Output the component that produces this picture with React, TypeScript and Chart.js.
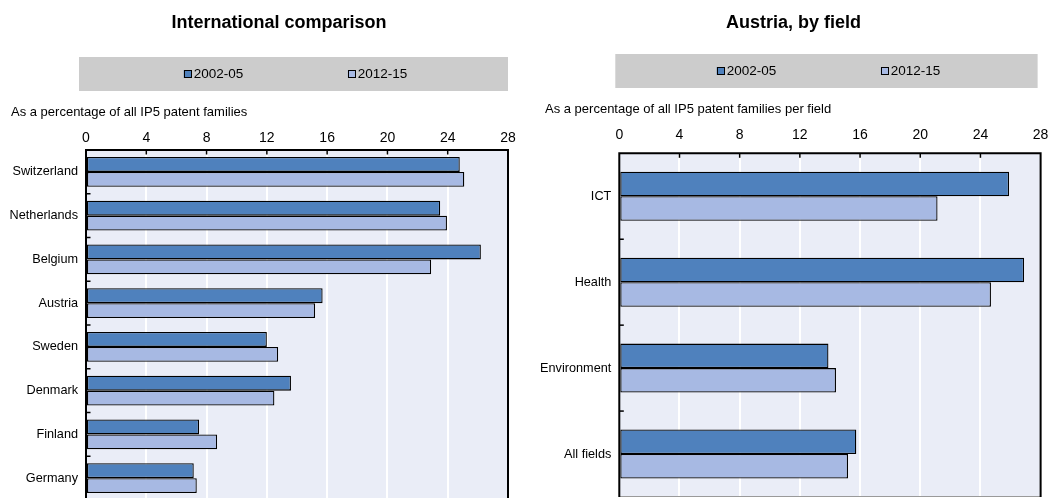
import React, { useEffect, useRef } from "react";
import { Chart, registerables } from "chart.js";

Chart.register(...registerables);

// ---------- data ----------
const SERIES_LABELS = ["2002-05", "2012-15"];
const SERIES_COLORS = ["#4F81BD", "#A7B9E3"];

const COUNTRIES = ["Switzerland", "Netherlands", "Belgium", "Austria", "Sweden", "Denmark", "Finland", "Germany"];
const COUNTRY_2002_05 = [24.8, 23.5, 26.2, 15.7, 12.0, 13.6, 7.5, 7.15];
const COUNTRY_2012_15 = [25.1, 23.95, 22.9, 15.2, 12.75, 12.5, 8.7, 7.35];

const FIELDS = ["ICT", "Health", "Environment", "All fields"];
const FIELD_2002_05 = [25.9, 26.9, 13.9, 15.75];
const FIELD_2012_15 = [21.15, 24.7, 14.4, 15.2];

const X_MIN = 0;
const X_MAX = 28;
const X_STEP = 4;

const TITLES = ["International comparison", "Austria, by field"];
const SUBTITLES = [
  "As a percentage of all IP5 patent families",
  "As a percentage of all IP5 patent families per field",
];

// ---------- styling ----------
const FONT = '"Liberation Sans", Arial, sans-serif';
const PLOT_BG = "#EAEDF7";
const LEGEND_BG = "#CCCCCC";

const decorPlugin = {
  id: "panelDecor",
  afterLayout(chart: any) {
    // let long category labels extend left of the layout padding (no clipping)
    if (chart.scales.y) chart.scales.y.left = 0;
  },
  beforeDraw(chart: any, _args: any, opts: any) {
    const { ctx, chartArea: a } = chart;
    ctx.save();
    ctx.fillStyle = opts.plotBg;
    ctx.fillRect(a.left, a.top, a.right - a.left, a.bottom - a.top);

    // legend band
    const bx = a.left + opts.legendInsetL;
    const bw = a.right + opts.legendInsetR - bx;
    ctx.fillStyle = opts.legendBg;
    ctx.fillRect(bx, opts.legendTop, bw, opts.legendHeight);

    ctx.font = `${opts.legendFontSize}px ${FONT}`;
    ctx.textBaseline = "middle";
    ctx.textAlign = "left";
    const ds = chart.data.datasets;
    const sq = 8;
    const gap = 2;
    const lastW = sq + gap + ctx.measureText(ds[ds.length - 1].label).width;
    const total = opts.legendItemStep * (ds.length - 1) + lastW;
    const cx = bx + bw / 2 + 2;
    const cy = opts.legendTop + opts.legendHeight / 2;
    let x = cx - total / 2;
    ds.forEach((d: any) => {
      ctx.fillStyle = d.backgroundColor;
      ctx.fillRect(x, cy - sq / 2, sq, sq);
      ctx.strokeStyle = "#000";
      ctx.lineWidth = 1;
      ctx.strokeRect(Math.round(x) + 0.5, Math.round(cy - sq / 2) + 0.5, sq - 1, sq - 1);
      ctx.fillStyle = "#000";
      ctx.fillText(d.label, x + sq + gap, cy + 0.5);
      x += opts.legendItemStep;
    });
    ctx.restore();
  },
  afterDraw(chart: any) {
    const { ctx, chartArea: a, scales } = chart;
    ctx.save();
    // bottom line
    ctx.strokeStyle = "#9A9A9A";
    ctx.lineWidth = 1;
    ctx.beginPath();
    ctx.moveTo(a.left, a.bottom - 0.5);
    ctx.lineTo(a.right, a.bottom - 0.5);
    ctx.stroke();
    // frame
    ctx.strokeStyle = "#000";
    ctx.lineWidth = 2;
    ctx.beginPath();
    ctx.moveTo(a.left, a.bottom);
    ctx.lineTo(a.left, a.top);
    ctx.lineTo(a.right, a.top);
    ctx.lineTo(a.right, a.bottom);
    ctx.stroke();
    // inner tick marks
    ctx.lineWidth = 1.5;
    const xs = scales.x;
    xs.ticks.forEach((t: any) => {
      if (t.value <= X_MIN || t.value >= X_MAX) return;
      const px = xs.getPixelForValue(t.value);
      ctx.beginPath();
      ctx.moveTo(px, a.top);
      ctx.lineTo(px, a.top + 4.5);
      ctx.stroke();
    });
    const ys = scales.y;
    const n = chart.data.labels.length;
    for (let i = 1; i < n; i++) {
      const py = (ys.getPixelForValue(i - 1) + ys.getPixelForValue(i)) / 2;
      ctx.beginPath();
      ctx.moveTo(a.left, py);
      ctx.lineTo(a.left + 4.5, py);
      ctx.stroke();
    }
    ctx.restore();
  },
};

type PanelCfg = {
  x: number;
  w: number;
  h: number;
  title: string;
  subtitle: string;
  labels: string[];
  a: number[];
  b: number[];
  pad: { left: number; right: number; top: number; bottom: number };
  titlePadBottom: number;
  subtitlePadBottom: number;
  tickPad: number;
  yWidth: number;
  rightSpacer: number;
  catPct: number;
  legendTop: number;
  legendInsetL: number;
  legendInsetR: number;
};

const PANELS: PanelCfg[] = [
  {
    x: 0,
    w: 547,
    h: 504,
    title: TITLES[0],
    subtitle: SUBTITLES[0],
    labels: COUNTRIES,
    a: COUNTRY_2002_05,
    b: COUNTRY_2012_15,
    pad: { left: 11, right: 0, top: 0, bottom: 4 },
    titlePadBottom: 70.34,
    subtitlePadBottom: 5.9,
    tickPad: 3.75,
    yWidth: 75,
    rightSpacer: 39,
    catPct: 0.68,
    legendTop: 57,
    legendInsetL: -7,
    legendInsetR: 0,
  },
  {
    x: 524,
    w: 534,
    h: 498,
    title: TITLES[1],
    subtitle: SUBTITLES[1],
    labels: FIELDS,
    a: FIELD_2002_05,
    b: FIELD_2012_15,
    pad: { left: 21, right: 16, top: 0, bottom: 1 },
    titlePadBottom: 67.84,
    subtitlePadBottom: 0,
    tickPad: 9.6,
    yWidth: 74.3,
    rightSpacer: 0,
    catPct: 0.57,
    legendTop: 54,
    legendInsetL: -4,
    legendInsetR: -3,
  },
];

function buildConfig(p: PanelCfg): any {
  const mk = (label: string, data: number[], color: string) => ({
    label,
    data,
    backgroundColor: color,
    borderColor: "#000",
    borderWidth: 1.3,
    borderSkipped: false,
    categoryPercentage: p.catPct,
    barPercentage: 1,
  });
  const scales: any = {
    x: {
      type: "linear",
      position: "top",
      min: X_MIN,
      max: X_MAX,
      ticks: {
        stepSize: X_STEP,
        padding: p.tickPad,
        color: "#000",
        font: { family: FONT, size: 14 },
        maxRotation: 0,
      },
      grid: { display: true, drawTicks: false, color: "#FFFFFF", lineWidth: 2 },
      border: { display: false },
    },
    y: {
      type: "category",
      position: "left",
      ticks: { padding: 8, color: "#000", font: { family: FONT, size: 12.7 }, autoSkip: false },
      grid: { display: false, drawTicks: false },
      border: { display: false },
      afterFit: (s: any) => {
        s.width = p.yWidth;
        s.paddingTop = 0;
        s.paddingBottom = 0;
      },
    },
  };
  if (p.rightSpacer > 0) {
    scales.y2 = {
      type: "linear",
      axis: "y",
      position: "right",
      display: true,
      ticks: { display: false },
      grid: { display: false, drawTicks: false },
      border: { display: false },
      afterFit: (s: any) => {
        s.width = p.rightSpacer;
        s.paddingTop = 0;
        s.paddingBottom = 0;
      },
    };
  }
  return {
    type: "bar",
    data: {
      labels: p.labels,
      datasets: [mk(SERIES_LABELS[0], p.a, SERIES_COLORS[0]), mk(SERIES_LABELS[1], p.b, SERIES_COLORS[1])],
    },
    options: {
      indexAxis: "y",
      responsive: false,
      animation: false,
      devicePixelRatio: 1,
      layout: { padding: p.pad },
      scales,
      plugins: {
        legend: { display: false },
        tooltip: { enabled: false },
        title: {
          display: true,
          text: p.title,
          color: "#000",
          font: { family: FONT, size: 18, weight: "bold" },
          padding: { top: 12.26, bottom: p.titlePadBottom },
        },
        subtitle: {
          display: true,
          text: p.subtitle,
          align: "start",
          color: "#000",
          font: { family: FONT, size: 13 },
          padding: { top: 0, bottom: p.subtitlePadBottom },
        },
        panelDecor: {
          plotBg: PLOT_BG,
          legendBg: LEGEND_BG,
          legendTop: p.legendTop,
          legendHeight: 34,
          legendInsetL: p.legendInsetL,
          legendInsetR: p.legendInsetR,
          legendFontSize: 13.5,
          legendItemStep: 164,
        },
      },
    },
    plugins: [decorPlugin],
  };
}

function Panel({ cfg }: { cfg: PanelCfg }) {
  const ref = useRef<HTMLCanvasElement>(null);
  useEffect(() => {
    const chart = new Chart(ref.current as HTMLCanvasElement, buildConfig(cfg));
    return () => chart.destroy();
  }, [cfg]);
  return (
    <canvas
      ref={ref}
      width={cfg.w}
      height={cfg.h}
      style={{ position: "absolute", left: cfg.x, top: 0, width: cfg.w, height: cfg.h }}
    />
  );
}

export default function App() {
  return (
    <div
      style={{
        position: "fixed",
        left: 0,
        top: 0,
        width: 1058,
        height: 498,
        overflow: "hidden",
        background: "#FFFFFF",
      }}
    >
      {PANELS.map((p, i) => (
        <Panel key={i} cfg={p} />
      ))}
    </div>
  );
}
